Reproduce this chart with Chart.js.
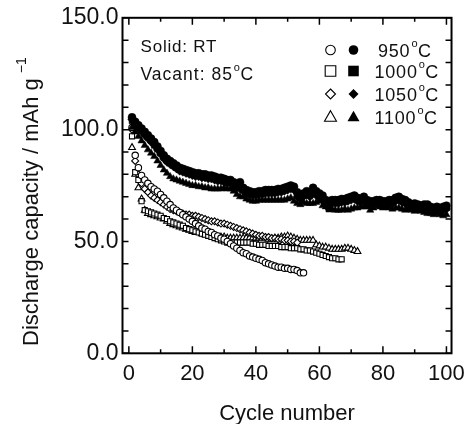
<!DOCTYPE html>
<html>
<head>
<meta charset="utf-8">
<script src="https://cdn.jsdelivr.net/npm/chart.js@4.4.0/dist/chart.umd.min.js"></script>
<style>
  body { margin: 0; background: #fff; }
  #wrap { width: 472px; height: 424px; }
</style>
</head>
<body>
<div id="wrap"><canvas id="chart" width="472" height="424"></canvas></div>
<script>
// discharge capacity in mAh/g, cycle number = index + 1
const temps = ['950', '1000', '1050', '1100'];
const styles = ['circle', 'rect', 'rectRot', 'triangle'];

// solid symbols: RT
const rt950 = [105.5,103.5,102,100.5,99,97.5,96,94.5,92.5,90.5,88.5,87,86,85,84,83,82.5,82,81.5,81,
  80.5,80.5,80,80,79.5,79.5,79,78.5,78.5,78,77.5,77.5,76.5,75.5,76.5,74,73,72.5,72,72,
  72.5,72.5,73,73,73,73,73.5,73.5,74,74.5,75,74.5,72,70.5,71.5,72.5,71.5,74,72.5,71.5,
  70.5,68.5,68,68.5,68.5,68.5,69,69,69.5,70,70.5,69.5,69,70,68.5,68,68,68.5,68.5,68,
  68,68.5,68.5,69.5,70,69,68.5,67.5,66.5,67,66.5,66,66.5,66.5,65.5,65,65.5,64.5,65.5,66];
const rt1000 = [104,102.5,101,99.5,98,96.5,95,93,91.5,89.5,87.5,86,85,84,83,82,81.5,81,80.5,80,
  79.5,79.5,79,79,78.5,78.5,78,77.5,77.5,77,76.5,76.5,75.5,74.5,74,73,72,71.5,71,71,
  71.5,71.5,72,72,72,72,72.5,72.5,73,73.5,74,73.5,70.5,69.5,70.5,71.5,70.5,72.5,71.5,70.5,
  69.5,67.5,64.5,67.5,67.5,67.5,68,68,68.5,69,69.5,68.5,68,69,67.5,67,67,67.5,67.5,67,
  67,67.5,67.5,68.5,69,68,67.5,66.5,65.5,66,65.5,65,65.5,65.5,64.5,64,64.5,63.5,64.5,65];
const rt1050 = [104.5,102,100.5,99,97.5,96,94.5,93,91,89,87,85.5,84.5,83.5,82.5,81.5,81,80.5,80,79.5,
  79,79,78.5,78.5,78,78,77.5,77,77,76.5,76,76,75,74,73.5,72.5,71.5,71,70.5,70.5,
  71,71,71.5,71.5,71.5,71.5,72,72,72.5,73,73.5,73,70,69,70,71,70,71.5,70.5,69.5,
  68.5,67,66.5,67,67,67,67.5,67.5,68,68.5,69,68,67.5,68.5,67,66.5,66.5,67,67,66.5,
  66.5,67,67,68,68.5,67.5,67,66,65,65.5,65,64.5,65,65,64,63.5,64,63,64,64.5];
const rt1100 = [101,99,97,95,93,91,89.5,88,86,84,82,80.5,79,78,77.5,77,76.5,76,75.5,75,
  75,74.5,74.5,74,74,73.5,73.5,73.5,73.5,74,73.5,73.5,72.5,71,70,70,69,68.5,68,68,
  68.5,68.5,68.5,68.5,68.5,68.5,68.5,68.5,68.5,69,69.5,68,67,66.5,67.5,67,67,67,67.5,68,
  66,65.5,65,64.5,64,64,64,64.5,64,64.5,65,65,65.5,65.5,65.5,64,65,66,65.5,65,
  65.5,65,64.5,65,65,64.5,64,64.5,64,63.5,64,63.5,63,62.5,62.5,62,62.5,62,61.5,62];

// open symbols: vacant 85 C
const v950 = [101,88.5,83,79.5,77.5,76,74.5,73.5,72.5,71,69.5,68,66.5,65,64,63,62,61,60,59,
  58,57,56,55.5,54.5,54,53,52.5,51.5,51,50,49,48,47,46,45,44.5,43.5,43,42.5,
  42,41.5,40.5,40,39.5,39,38.5,38.5,38,38,37.5,37.5,37,36,36];
const v1000 = [97,81,77.5,68,64,63.5,63,62.5,62,61.5,60.5,60,59,58.5,58,57.5,57,56,55.5,55,
  54.5,54,53.5,53,52.5,52,51.5,51,50.5,50,49.5,49.5,49.5,49.5,49.5,49.5,49.5,49.5,49,49,
  48.5,48.5,48.5,48,48,48,48,47.5,47.5,47.5,47,47,47,46.5,46.5,46,46,45.5,45,44.5,
  44,43.5,43,42.5,42.5,42,42];
const v1050 = [100,86,80,76,73.5,72,70.5,69.5,68.5,67.5,66.5,65.5,64.5,64,63.5,63,62.5,62,62,61.5,
  61.5,61,60.5,60,59.5,59,59,58.5,58,58,57.5,57,56.5,56,55.5,55,54.5,54,53.5,53,
  52.5,52.5,52,52,51.5,51.5,51,51,50.5,50.5,50,50,49.5];
const v1100 = [92,80,74,69,64,62.5,62,61.5,61,60.5,60,59,58,57.5,57,56.5,56,55.5,55,54.5,
  54,54,53.5,53,53,52.5,52.5,52,52,52,51.5,51.5,51.5,51.5,51.5,51.5,51.5,51.5,51.5,51.5,
  51.5,51.5,51.5,51,51,51.5,51.5,52,52,52.5,52,51.5,51,50.5,50.5,50.5,50.5,50.5,48.5,48,
  47.5,47.5,47,46.5,46.5,46.5,46.5,47,47,46.5,46,45.5];

const xTicks = [0, 10, 20, 30, 40, 50, 60, 70, 80, 90, 100];
const yTicks = [0, 10, 20, 30, 40, 50, 60, 70, 80, 90, 100, 110, 120, 130, 140, 150];

const FONT = "'Liberation Sans', Arial, Helvetica, sans-serif";
const INK = '#111';

function toPoints(arr) {
    return arr.map((v, i) => ({ x: i + 1, y: v }));
}

const solidSets = [rt950, rt1000, rt1050, rt1100];
const openSets = [v950, v1000, v1050, v1100];
const solidRadius = [4, 4.2, 4.2, 4.2];
const openRadius = [3.2, 3.6, 3.5, 3.9];

const datasets = [];
solidSets.forEach((arr, i) => {
    datasets.push({
        label: temps[i] + ' RT',
        data: toPoints(arr),
        pointStyle: styles[i],
        pointRadius: solidRadius[i],
        pointBackgroundColor: '#000',
        pointBorderColor: '#000',
        pointBorderWidth: 0.5,
        showLine: false,
    });
});
openSets.forEach((arr, i) => {
    datasets.push({
        label: temps[i] + ' 85C',
        data: toPoints(arr),
        pointStyle: styles[i],
        pointRadius: openRadius[i],
        pointBackgroundColor: '#fff',
        pointBorderColor: '#000',
        pointBorderWidth: 1.1,
        showLine: false,
    });
});

// legend marker, drawn by hand since each row has two symbols
function marker(ctx, style, x, y, r, filled) {
    ctx.beginPath();
    if (style === 'circle') {
        ctx.arc(x, y, r, 0, Math.PI * 2);
    } else if (style === 'rect') {
        ctx.rect(x - r, y - r, r * 2, r * 2);
    } else if (style === 'rectRot') {
        ctx.moveTo(x, y - r);
        ctx.lineTo(x + r, y);
        ctx.lineTo(x, y + r);
        ctx.lineTo(x - r, y);
        ctx.closePath();
    } else {
        ctx.moveTo(x, y - r * 1.05);
        ctx.lineTo(x + r, y + r * 0.7);
        ctx.lineTo(x - r, y + r * 0.7);
        ctx.closePath();
    }
    if (filled) {
        ctx.fillStyle = '#000';
        ctx.fill();
    } else {
        ctx.fillStyle = '#fff';
        ctx.fill();
        ctx.lineWidth = 1.1;
        ctx.strokeStyle = '#000';
        ctx.stroke();
    }
}

// "85" + raised o + "C"
function degreeText(ctx, num, x, baseline, size, spacing) {
    ctx.letterSpacing = spacing + 'px';
    ctx.font = size + 'px ' + FONT;
    ctx.fillText(num, x, baseline);
    const w = ctx.measureText(num).width;
    ctx.letterSpacing = '0px';
    ctx.font = Math.round(size * 0.62) + 'px ' + FONT;
    ctx.fillText('o', x + w + 1, baseline - size * 0.52);
    const ow = ctx.measureText('o').width;
    ctx.font = size + 'px ' + FONT;
    ctx.fillText('C', x + w + ow + 1.5, baseline);
}

const framePlugin = {
    id: 'frame',
    afterDraw(chart) {
        const { ctx, chartArea: a, scales } = chart;
        const xs = scales.x, ys = scales.y;
        ctx.save();
        ctx.strokeStyle = '#000';
        ctx.lineWidth = 2;
        ctx.strokeRect(a.left, a.top, a.right - a.left, a.bottom - a.top);

        // inward ticks on all four sides
        ctx.lineWidth = 1.5;
        ctx.beginPath();
        xTicks.forEach((v) => {
            const px = xs.getPixelForValue(v);
            const len = v % 20 === 0 ? 7 : 4;
            ctx.moveTo(px, a.bottom);
            ctx.lineTo(px, a.bottom - len);
            ctx.moveTo(px, a.top);
            ctx.lineTo(px, a.top + len);
        });
        yTicks.forEach((v) => {
            const py = ys.getPixelForValue(v);
            ctx.moveTo(a.left, py);
            ctx.lineTo(a.left + 6, py);
            ctx.moveTo(a.right, py);
            ctx.lineTo(a.right - 6, py);
        });
        ctx.stroke();

        // y title with superscript
        ctx.fillStyle = INK;
        ctx.save();
        ctx.translate(32, 346);
        ctx.rotate(-Math.PI / 2);
        ctx.textBaseline = 'middle';
        ctx.textAlign = 'left';
        ctx.font = '22px ' + FONT;
        const main = 'Discharge capacity / mAh g';
        ctx.fillText(main, 0, 0);
        const mw = ctx.measureText(main).width;
        ctx.font = '14px ' + FONT;
        ctx.fillText('\u22121', mw + 5, -10);
        ctx.restore();

        // notes in the top left corner
        ctx.textBaseline = 'alphabetic';
        ctx.textAlign = 'left';
        ctx.letterSpacing = '0.8px';
        ctx.font = '17px ' + FONT;
        ctx.fillText('Solid: RT', 140.5, 51.5);
        degreeText(ctx, 'Vacant: 85', 140.5, 80, 17.5, 1);

        // legend
        const rowY = [50, 71, 94, 117];
        const textX = [378, 374.5, 374.5, 374.5];
        const legR = [4.8, 5.3, 5, 6];
        temps.forEach((t, i) => {
            marker(ctx, styles[i], 330.5, rowY[i], legR[i], false);
            marker(ctx, styles[i], 353.5, rowY[i], legR[i], true);
            ctx.fillStyle = INK;
            degreeText(ctx, t, textX[i], rowY[i] + 6.5, 18, 0.8);
        });
        ctx.restore();
    },
};

new Chart(document.getElementById('chart'), {
    type: 'scatter',
    data: { datasets },
    options: {
        responsive: false,
        animation: false,
        layout: { padding: { left: 0, right: 13.3, top: 17, bottom: 0 } },
        plugins: {
            legend: { display: false },
            tooltip: { enabled: false },
        },
        scales: {
            x: {
                type: 'linear',
                min: -2,
                max: 101.6,
                afterBuildTicks: (s) => { s.ticks = xTicks.map((v) => ({ value: v })); },
                afterFit: (s) => { s.height = 424 - 353.3; },
                grid: { display: false, drawTicks: false },
                border: { display: false },
                ticks: {
                    padding: 7,
                    color: INK,
                    font: { family: FONT, size: 22 },
                    maxRotation: 0,
                    autoSkip: false,
                    callback: (v) => (v % 20 === 0 ? String(v) : ''),
                },
                title: {
                    display: true,
                    text: 'Cycle number',
                    color: INK,
                    font: { family: FONT, size: 22, lineHeight: 1 },
                    padding: { top: 0, bottom: -1 },
                },
            },
            y: {
                type: 'linear',
                min: 0,
                max: 150,
                afterBuildTicks: (s) => { s.ticks = yTicks.map((v) => ({ value: v })); },
                afterFit: (s) => { s.width = 122.5; },
                grid: { display: false, drawTicks: false },
                border: { display: false },
                ticks: {
                    padding: 4,
                    color: INK,
                    font: { family: FONT, size: 23 },
                    autoSkip: false,
                    callback: (v) => (v % 50 === 0 ? v.toFixed(1) : ''),
                },
            },
        },
    },
    plugins: [framePlugin],
});
</script>
</body>
</html>
